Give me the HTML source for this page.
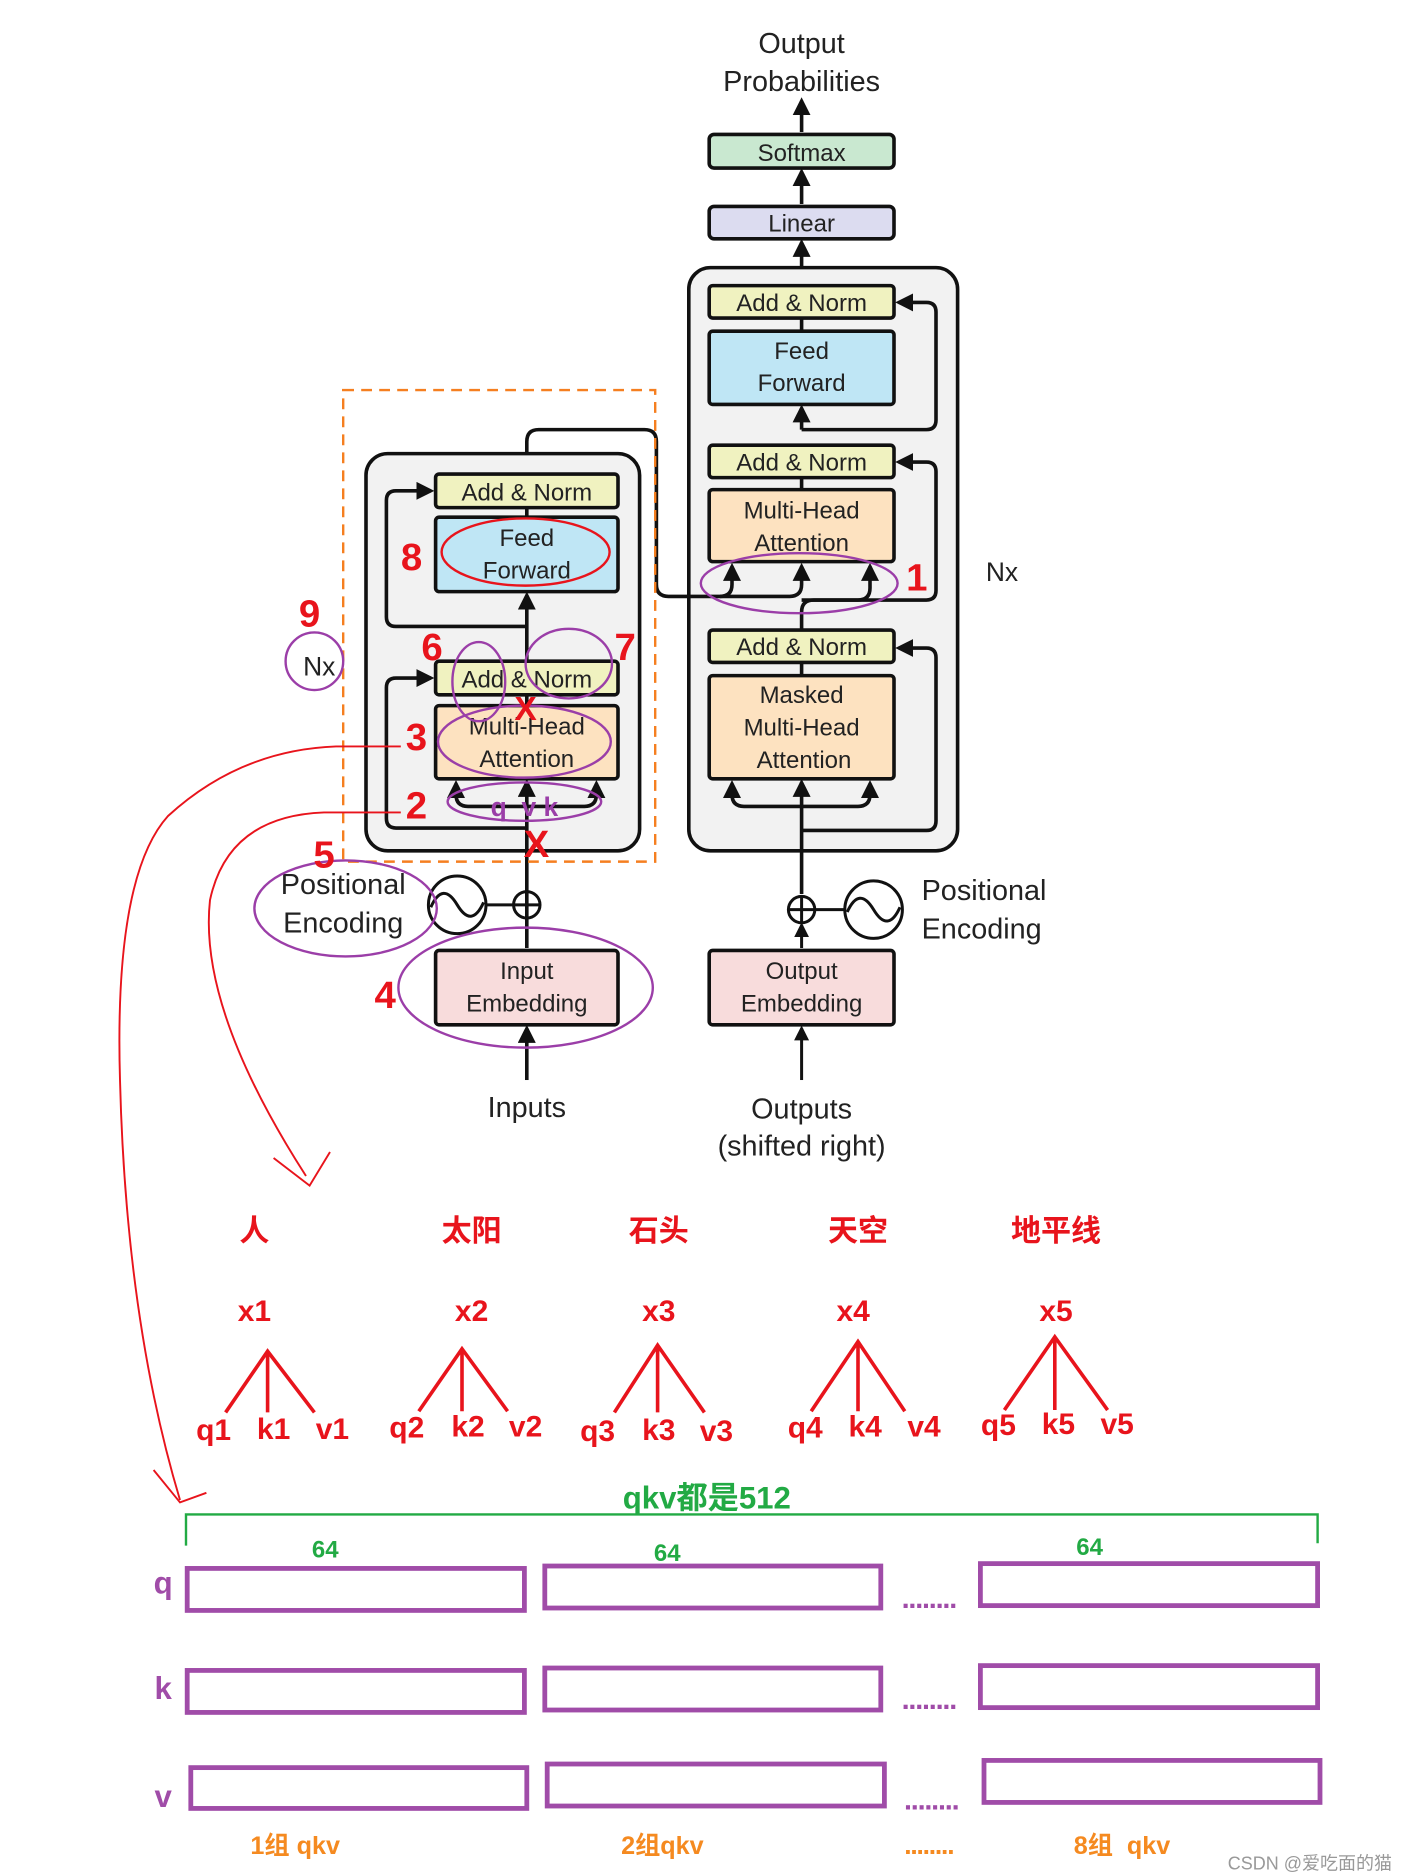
<!DOCTYPE html>
<html><head><meta charset="utf-8"><style>
html,body{margin:0;padding:0;background:#fff;}
svg{display:block}
.t{font-family:"Liberation Sans","Noto Sans CJK SC",sans-serif;fill:#222;text-anchor:middle}
.b{stroke:#111;stroke-width:3;}
.r{font-family:"Liberation Sans","Noto Sans CJK SC",sans-serif;fill:#e8141c;font-weight:bold;text-anchor:middle}
.d{font-family:"Liberation Sans",sans-serif;font-weight:bold;text-anchor:middle;letter-spacing:-1px}
</style></head><body>
<svg width="1404" height="1876" viewBox="0 0 1170 1563.3" xmlns="http://www.w3.org/2000/svg">
<defs><marker id="a" viewBox="0 0 10 10" refX="8" refY="5" markerWidth="5" markerHeight="5" orient="auto"><path d="M0,0 L10,5 L0,10 z" fill="#111"/></marker></defs>
<g fill="none" stroke="#111" stroke-width="3">
<line x1="668" y1="110" x2="668" y2="84" marker-end="url(#a)"/>
<line x1="668" y1="170" x2="668" y2="143" marker-end="url(#a)"/>
<line x1="668" y1="237" x2="668" y2="202" marker-end="url(#a)"/>
</g>
<text class="t" x="668" y="44" font-size="24">Output</text>
<text class="t" x="668" y="76" font-size="24">Probabilities</text>
<rect x="591" y="112" width="154" height="28" rx="4" fill="#c9e8d0" class="b"/>
<text class="t" x="668" y="134" font-size="20">Softmax</text>
<rect x="591" y="172" width="154" height="27" rx="4" fill="#dcdcf0" class="b"/>
<text class="t" x="668" y="193" font-size="20">Linear</text>
<rect x="574" y="223" width="224" height="486" rx="18" fill="#f2f2f2" class="b"/>
<g fill="none" stroke="#111" stroke-width="3">
<path d="M668 358 H772 Q780 358 780 350 V260 Q780 252 772 252 H749" marker-end="url(#a)"/>
<path d="M668 500 H772 Q780 500 780 492 V393 Q780 385 772 385 H749" marker-end="url(#a)"/>
<path d="M668 692 H772 Q780 692 780 684 V548 Q780 540 772 540 H749" marker-end="url(#a)"/>
<line x1="668" y1="358" x2="668" y2="340" marker-end="url(#a)"/>
<line x1="668" y1="745" x2="668" y2="652" marker-end="url(#a)"/>
<path d="M668 672 H620 Q610 672 610 662 V653" marker-end="url(#a)"/>
<path d="M668 672 H715 Q725 672 725 662 V653" marker-end="url(#a)"/>
<path d="M668 525 V510 Q668 500 678 500 H715 Q725 500 725 490 V472" marker-end="url(#a)"/>
<path d="M439 395 V368 Q439 358 449 358 H537 Q547 358 547 368 V487 Q547 497 557 497 H658 Q668 497 668 487 V472" marker-end="url(#a)"/>
<path d="M600 497 Q610 497 610 487 V472" marker-end="url(#a)"/>
<line x1="668" y1="552" x2="668" y2="563"/>
<line x1="668" y1="265" x2="668" y2="276"/>
<line x1="668" y1="398" x2="668" y2="408"/>
</g>
<rect x="591" y="238" width="154" height="27" rx="3" fill="#f0f2c0" class="b"/>
<text class="t" x="668" y="259" font-size="20">Add &amp; Norm</text>
<rect x="591" y="276" width="154" height="61" rx="3" fill="#bfe6f5" class="b"/>
<text class="t" x="668" y="299" font-size="20">Feed</text><text class="t" x="668" y="326" font-size="20">Forward</text>
<rect x="591" y="371" width="154" height="27" rx="3" fill="#f0f2c0" class="b"/>
<text class="t" x="668" y="392" font-size="20">Add &amp; Norm</text>
<rect x="591" y="408" width="154" height="60" rx="3" fill="#fde2c0" class="b"/>
<text class="t" x="668" y="432" font-size="20">Multi-Head</text><text class="t" x="668" y="459" font-size="20">Attention</text>
<rect x="591" y="525" width="154" height="27" rx="3" fill="#f0f2c0" class="b"/>
<text class="t" x="668" y="546" font-size="20">Add &amp; Norm</text>
<rect x="591" y="563" width="154" height="86" rx="3" fill="#fde2c0" class="b"/>
<text class="t" x="668" y="586" font-size="20">Masked</text><text class="t" x="668" y="613" font-size="20">Multi-Head</text><text class="t" x="670" y="640" font-size="20">Attention</text>
<text class="t" x="835" y="484" font-size="22">Nx</text>
<g fill="none" stroke="#111" stroke-width="2.5">
<circle cx="668" cy="758" r="11"/><line x1="657" y1="758" x2="679" y2="758"/><line x1="668" y1="747" x2="668" y2="769"/>
<circle cx="728" cy="758" r="24"/><path d="M706 760 Q716 738 728 758 Q740 778 750 756"/>
<line x1="679" y1="758" x2="704" y2="758"/>
<line x1="668" y1="790" x2="668" y2="771" marker-end="url(#a)"/>
<line x1="668" y1="900" x2="668" y2="857" marker-end="url(#a)"/>
</g>
<text class="t" x="768" y="750" font-size="24" style="text-anchor:start">Positional</text>
<text class="t" x="768" y="782" font-size="24" style="text-anchor:start">Encoding</text>
<rect x="591" y="792" width="154" height="62" rx="3" fill="#f8dcdc" class="b"/>
<text class="t" x="668" y="816" font-size="20">Output</text><text class="t" x="668" y="843" font-size="20">Embedding</text>
<text class="t" x="668" y="932" font-size="24">Outputs</text>
<text class="t" x="668" y="963" font-size="24">(shifted right)</text>
<rect x="305" y="378" width="228" height="331" rx="18" fill="#f2f2f2" class="b"/>
<g fill="none" stroke="#111" stroke-width="3">
<path d="M439 690 H330 Q322 690 322 682 V573 Q322 565 330 565 H359" marker-end="url(#a)"/>
<path d="M439 522 H330 Q322 522 322 514 V417 Q322 409 330 409 H359" marker-end="url(#a)"/>
<line x1="439" y1="551" x2="439" y2="496" marker-end="url(#a)"/>
<line x1="439" y1="423" x2="439" y2="431"/>
<line x1="439" y1="579" x2="439" y2="588"/>
<line x1="439" y1="790" x2="439" y2="652" marker-end="url(#a)"/>
<path d="M439 672 H390 Q380 672 380 662 V653" marker-end="url(#a)"/>
<path d="M439 672 H487 Q497 672 497 662 V653" marker-end="url(#a)"/>
<line x1="439" y1="900" x2="439" y2="857" marker-end="url(#a)"/>
</g>
<rect x="363" y="395" width="152" height="28" rx="3" fill="#f0f2c0" class="b"/>
<text class="t" x="439" y="417" font-size="20">Add &amp; Norm</text>
<rect x="363" y="431" width="152" height="62" rx="3" fill="#bfe6f5" class="b"/>
<text class="t" x="439" y="455" font-size="20">Feed</text><text class="t" x="439" y="482" font-size="20">Forward</text>
<rect x="363" y="551" width="152" height="28" rx="3" fill="#f0f2c0" class="b"/>
<text class="t" x="439" y="573" font-size="20">Add &amp; Norm</text>
<rect x="363" y="588" width="152" height="61" rx="3" fill="#fde2c0" class="b"/>
<text class="t" x="439" y="612" font-size="20">Multi-Head</text><text class="t" x="439" y="639" font-size="20">Attention</text>
<rect x="286" y="325" width="260" height="393" fill="none" stroke="#f57f20" stroke-width="2" stroke-dasharray="9,6"/>
<g fill="none" stroke="#111" stroke-width="2.5">
<circle cx="439" cy="754" r="11"/><line x1="428" y1="754" x2="450" y2="754"/><line x1="439" y1="743" x2="439" y2="765"/>
<circle cx="381" cy="754" r="24"/><path d="M359 756 Q369 734 381 754 Q393 774 403 752"/>
<line x1="405" y1="754" x2="428" y2="754"/>
</g>
<text class="t" x="286" y="745" font-size="24">Positional</text>
<text class="t" x="286" y="777" font-size="24">Encoding</text>
<rect x="363" y="792" width="152" height="62" rx="3" fill="#f8dcdc" class="b"/>
<text class="t" x="439" y="816" font-size="20">Input</text><text class="t" x="439" y="843" font-size="20">Embedding</text>
<text class="t" x="439" y="931" font-size="24">Inputs</text>
<text class="t" x="266" y="563" font-size="22">Nx</text>
<g fill="none" stroke="#9b3ea8" stroke-width="2">
<ellipse cx="262" cy="551" rx="24" ry="24"/>
<ellipse cx="399" cy="568" rx="22" ry="33"/>
<ellipse cx="474" cy="553" rx="36" ry="29"/>
<ellipse cx="437" cy="618" rx="72" ry="30"/>
<ellipse cx="437" cy="668" rx="64" ry="16"/>
<ellipse cx="666" cy="486" rx="82" ry="25"/>
<ellipse cx="288" cy="757" rx="76" ry="40"/>
<ellipse cx="438" cy="823" rx="106" ry="50"/>
</g>
<ellipse cx="438" cy="460" rx="70" ry="28" fill="none" stroke="#e8141c" stroke-width="2"/>
<g fill="none" stroke="#e8141c" stroke-width="1.6">
<path d="M334 622 H280 Q200 625 140 680 Q95 730 100 900 Q105 1100 150 1250"/>
<path d="M128 1225 L150 1252 L172 1244"/>
<path d="M334 677 H270 Q190 680 175 750 Q165 840 255 980"/>
<path d="M228 965 L258 988 L275 960"/>
</g>
<text class="r" x="343" y="475" font-size="32">8</text>
<text class="r" x="258" y="522" font-size="32">9</text>
<text class="r" x="360" y="550" font-size="32">6</text>
<text class="r" x="521" y="550" font-size="32">7</text>
<text class="r" x="347" y="625" font-size="32">3</text>
<text class="r" x="347" y="682" font-size="32">2</text>
<text class="r" x="270" y="723" font-size="32">5</text>
<text class="r" x="321" y="840" font-size="32">4</text>
<text class="r" x="764" y="492" font-size="32">1</text>
<text class="r" x="438" y="600" font-size="28">X</text>
<text class="r" x="447" y="714" font-size="32">X</text>
<text class="r" x="437" y="680" font-size="22" style="fill:#9b3ea8">q&#160;&#160;v&#160;k</text>
<g font-size="25">
<text class="r" x="212" y="1034">人</text><text class="r" x="393" y="1034">太阳</text><text class="r" x="549" y="1034">石头</text><text class="r" x="715" y="1034">天空</text><text class="r" x="880" y="1034">地平线</text>
<text class="r" x="212" y="1101">x1</text><text class="r" x="393" y="1101">x2</text><text class="r" x="549" y="1101">x3</text><text class="r" x="711" y="1101">x4</text><text class="r" x="880" y="1101">x5</text>
<text class="r" x="178" y="1200">q1</text><text class="r" x="228" y="1199">k1</text><text class="r" x="277" y="1199">v1</text>
<text class="r" x="339" y="1198">q2</text><text class="r" x="390" y="1197">k2</text><text class="r" x="438" y="1197">v2</text>
<text class="r" x="498" y="1201">q3</text><text class="r" x="549" y="1200">k3</text><text class="r" x="597" y="1201">v3</text>
<text class="r" x="671" y="1198">q4</text><text class="r" x="721" y="1197">k4</text><text class="r" x="770" y="1197">v4</text>
<text class="r" x="832" y="1196">q5</text><text class="r" x="882" y="1195">k5</text><text class="r" x="931" y="1195">v5</text>
</g>
<g stroke="#e8141c" stroke-width="3" fill="none">
<path d="M188 1177 L223 1126 L262 1177 M223 1126 V1177"/>
<path d="M349 1176 L385 1124 L423 1176 M385 1124 V1176"/>
<path d="M512 1177 L548 1121 L587 1177 M548 1121 V1177"/>
<path d="M676 1176 L715 1118 L754 1176 M715 1118 V1176"/>
<path d="M837 1175 L879 1114 L923 1175 M879 1114 V1175"/>
</g>
<text class="r" x="589" y="1257" font-size="26" style="fill:#22aa44">qkv都是512</text>
<path d="M155 1288 V1262 H1098 V1286" fill="none" stroke="#22aa44" stroke-width="2"/>
<text class="r" x="271" y="1298" font-size="20" style="fill:#22aa44">64</text>
<text class="r" x="556" y="1301" font-size="20" style="fill:#22aa44">64</text>
<text class="r" x="908" y="1296" font-size="20" style="fill:#22aa44">64</text>
<g fill="none" stroke="#a04ca8" stroke-width="4">
<rect x="156" y="1307" width="281" height="35"/><rect x="454" y="1305" width="280" height="35"/><rect x="817" y="1303" width="281" height="35"/>
<rect x="156" y="1392" width="281" height="35"/><rect x="454" y="1390" width="280" height="35"/><rect x="817" y="1388" width="281" height="35"/>
<rect x="159" y="1473" width="280" height="34"/><rect x="456" y="1470" width="281" height="35"/><rect x="820" y="1467" width="280" height="35"/>
</g>
<text class="r" x="136" y="1328" font-size="26" style="fill:#a04ca8">q</text>
<text class="r" x="136" y="1416" font-size="26" style="fill:#a04ca8">k</text>
<text class="r" x="136" y="1506" font-size="26" style="fill:#a04ca8">v</text>
<text class="d" x="774" y="1340" font-size="24" fill="#a04ca8">........</text>
<text class="d" x="774" y="1424" font-size="24" fill="#a04ca8">........</text>
<text class="d" x="776" y="1508" font-size="24" fill="#a04ca8">........</text>
<text class="r" x="246" y="1545" font-size="21" style="fill:#f58a20">1组 qkv</text>
<text class="r" x="552" y="1545" font-size="21" style="fill:#f58a20">2组qkv</text>
<text class="d" x="774" y="1545" font-size="22" fill="#f58a20">........</text>
<text class="r" x="935" y="1545" font-size="21" style="fill:#f58a20">8组&#160; qkv</text>
<text x="1160" y="1558" font-size="15" fill="#999" font-family="Liberation Sans,Noto Sans CJK SC,sans-serif" text-anchor="end">CSDN @爱吃面的猫</text>
</svg>
</body></html>
